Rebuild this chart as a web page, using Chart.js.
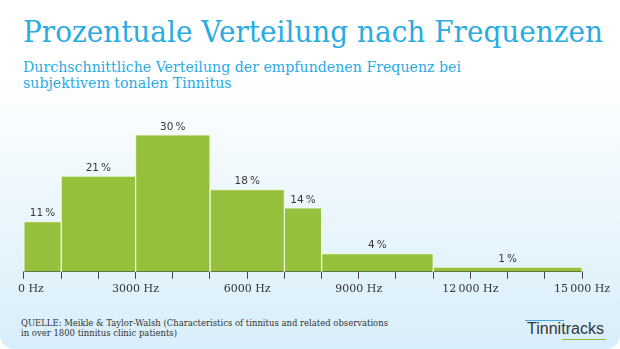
<!DOCTYPE html>
<html>
<head>
<meta charset="utf-8">
<script src="https://cdn.jsdelivr.net/npm/chart.js@4"></script>
<style>
    html, body { margin: 0; padding: 0; background: #fff; }
    .card {
        position: relative;
        width: 620px;
        height: 349px;
        overflow: hidden;
        border-radius: 0 0 14px 14px;
        background: linear-gradient(to bottom, #ffffff 0%, #ffffff 20%, #d8eefa 100%);
    }
    .fit { position: absolute; white-space: nowrap; transform-origin: left top; }
    .title { left: 23px; top: 17px; font: 30px/30px "DejaVu Serif", serif; color: #2aabe2; }
    .sub { left: 23px; font: 15px/16px "DejaVu Serif", serif; color: #2aabe2; }
    .src { left: 21px; font: 9px/9.5px "DejaVu Serif", serif; color: #333; }
    .logo { left: 527px; top: 320.5px; font: 16px/16px "Liberation Sans", Arial, sans-serif; color: #33373b; }
    .bar { position: absolute; height: 1.6px; }
    #chartBox { position: absolute; left: 0; top: 115px; width: 620px; height: 195px; }
</style>
</head>
<body>
<div class="card">
    <span class="fit title" data-w="580">Prozentuale Verteilung nach Frequenzen</span>
    <span class="fit sub" style="top:59px" data-w="438" data-group="sub">Durchschnittliche Verteilung der empfundenen Frequenz bei</span>
    <span class="fit sub" style="top:75px" data-group="sub">subjektivem tonalen Tinnitus</span>
    <div id="chartBox"><canvas id="myChart"></canvas></div>
    <span class="fit src" style="top:319px" data-w="367" data-group="src">QUELLE: Meikle &amp; Taylor-Walsh (Characteristics of tinnitus and related observations</span>
    <span class="fit src" style="top:328.5px" data-group="src">in over 1800 tinnitus clinic patients)</span>
    <div class="bar" style="left:525px; top:319.5px; width:39px; background:#45a9e1;"></div>
    <span class="fit logo" data-w="77">Tinnitracks</span>
    <div class="bar" style="left:562px; top:338.5px; width:44px; background:#8dbb2f;"></div>
</div>
<script>
// Frequenzbereiche (Hz) und Anteile (%)
const binStart = [0, 1000, 3000, 5000, 7000, 8000, 11000];
const binEnd = [1000, 3000, 5000, 7000, 8000, 11000, 15000];
const percent = [11, 21, 30, 18, 14, 4, 1];
// erstes Label etwas nach rechts versetzt wie im Original
const tickLabels = ['\u2007\u20070 Hz', '3000 Hz', '6000 Hz', '9000 Hz', '12\u2009000 Hz', '15\u2009000 Hz'];

// Texte auf Zielbreite bringen
let groups = {};
document.querySelectorAll('.fit').forEach(function (el) {
    let g = el.dataset.group;
    let s = 1;
    if (el.dataset.w) {
        s = el.dataset.w / el.getBoundingClientRect().width;
        if (g) groups[g] = s;
    } else if (g) {
        s = groups[g];
    }
    el.style.transform = 'scaleX(' + s + ')';
});

// jede Säule als gefülltes Rechteck (Linie um die Fläche)
let datasets = [];
for (let i = 0; i < percent.length; i++) {
    datasets.push({
        data: [
            { x: binStart[i], y: 0 },
            { x: binStart[i], y: percent[i] },
            { x: binEnd[i], y: percent[i] },
            { x: binEnd[i], y: 0 }
        ],
        fill: 'origin',
        backgroundColor: '#94c03b',
        borderColor: 'rgba(240,248,225,0.95)',
        borderWidth: 1.2,
        pointRadius: 0,
        tension: 0,
        clip: false
    });
}

const valueLabels = {
    id: 'valueLabels',
    afterDatasetsDraw(chart) {
        const ctx = chart.ctx;
        const xs = chart.scales.x;
        const ys = chart.scales.y;
        ctx.save();
        ctx.font = '10.5px "DejaVu Sans", sans-serif';
        ctx.fillStyle = '#3a3a3a';
        ctx.textAlign = 'center';
        ctx.textBaseline = 'middle';
        for (let i = 0; i < percent.length; i++) {
            let x = xs.getPixelForValue((binStart[i] + binEnd[i]) / 2);
            let y = ys.getPixelForValue(percent[i]) - 8;
            ctx.fillText(percent[i] + '\u2009%', x, y);
        }
        ctx.restore();
    }
};

new Chart(document.getElementById('myChart'), {
    type: 'line',
    data: { datasets: datasets },
    plugins: [valueLabels],
    options: {
        responsive: true,
        maintainAspectRatio: false,
        animation: false,
        events: [],
        layout: { padding: { left: 23, right: 38, top: 20, bottom: 10 } },
        plugins: {
            legend: { display: false },
            tooltip: { enabled: false }
        },
        scales: {
            x: {
                type: 'linear',
                min: 0,
                max: 15000,
                ticks: {
                    stepSize: 1000,
                    autoSkip: false,
                    maxRotation: 0,
                    padding: 4,
                    color: '#333',
                    font: { family: '"DejaVu Serif", serif', size: 11 },
                    callback: function (v) {
                        return v % 3000 === 0 ? tickLabels[v / 3000] : '';
                    }
                },
                grid: {
                    drawOnChartArea: false,
                    drawTicks: true,
                    tickLength: 7,
                    color: '#444',
                    lineWidth: 1
                },
                border: { display: true, color: '#444', width: 1 }
            },
            y: {
                display: false,
                min: 0,
                max: 30
            }
        }
    }
});
</script>
</body>
</html>
